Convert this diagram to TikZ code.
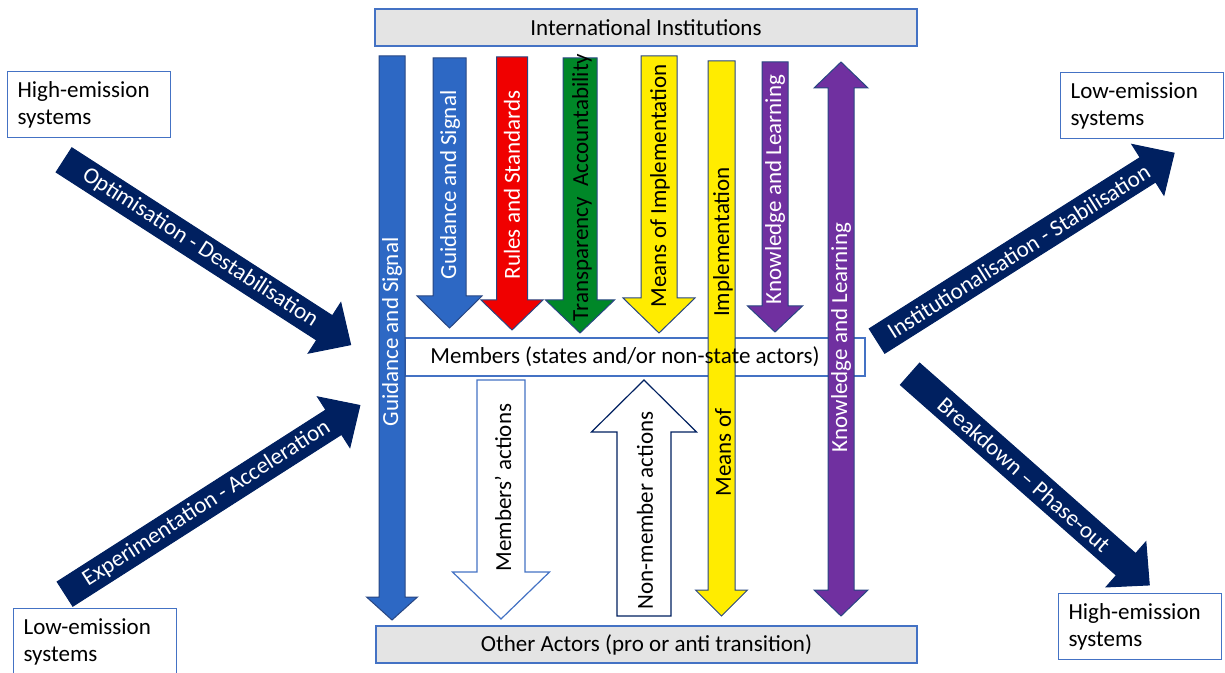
\documentclass[tikz,border=0pt]{standalone}
\usepackage{fontspec}
\setmainfont{Carlito}
\definecolor{navy}{RGB}{0,32,96}
\definecolor{boxblue}{RGB}{68,114,196}
\definecolor{edgeblue}{RGB}{40,70,130}
\definecolor{cblue}{RGB}{45,104,196}
\definecolor{cred}{RGB}{240,0,0}
\definecolor{cgreen}{RGB}{0,135,40}
\definecolor{cyellow}{RGB}{255,236,0}
\definecolor{cpurple}{RGB}{112,48,160}
\definecolor{boxgray}{RGB}{228,228,228}
% #1 style, #2 x centre, #3 tail y, #4 tip y, #5 half shaft, #6 half head, #7 head base y
\newcommand\vblockarrow[7]{%
  \filldraw[#1] (#2-#5,#3) -- (#2+#5,#3) -- (#2+#5,#7) -- (#2+#6,#7) -- (#2,#4)
    -- (#2-#6,#7) -- (#2-#5,#7) -- cycle;}
% #1 name, #2 tail point, #3 angle, #4 length, #5 text position, #6 text
\newcommand\diagblockarrow[6]{%
  \begin{scope}[shift={#2}, rotate=#3]
    \filldraw[diagarrow] (0,-14.5) -- (#4-31,-14.5) -- (#4-31,-30) -- (#4,0)
      -- (#4-31,30) -- (#4-31,14.5) -- (0,14.5) -- cycle;
    \node[difftext, rotate=#3] (#1) at (#5,0) {#6};
  \end{scope}}
\begin{document}
\begin{tikzpicture}[x=0.5pt,y=-0.5pt,
  font=\fontsize{11.5}{13.5}\selectfont,
  grayband/.style={draw=boxblue, fill=boxgray, line width=0.6pt, inner sep=0pt},
  sysbox/.style={draw=boxblue, fill=white, line width=0.6pt, anchor=north west,
    minimum height=33pt, text width=71.5pt, inner xsep=5pt, inner ysep=0pt, align=left},
  arrowedge/.style={draw=edgeblue, line width=0.5pt},
  diagarrow/.style={fill=navy, draw=navy, line width=0.5pt},
  difftext/.style={text=white, inner sep=0pt},
  vlabel/.style={rotate=90, inner sep=0pt},
  wlabel/.style={vlabel, text=white},
  blabel/.style={vlabel, text=black}]
\useasboundingbox (0,0) rectangle (1225,673);

% bands
\node[grayband, minimum width=271pt, minimum height=18.5pt] (intl) at (646,27.5) {International Institutions};
\node[grayband, minimum width=270.5pt, minimum height=18.5pt] (other) at (646.5,644.5) {Other Actors (pro or anti transition)};
\node[draw=boxblue, fill=white, line width=0.6pt, minimum width=230pt, minimum height=19pt, inner sep=0pt] (membox) at (635,357) {};

% short arrows from institutions to members
\vblockarrow{arrowedge, fill=cblue}{449.5}{58}{328}{16.5}{32.5}{296}
\vblockarrow{arrowedge, fill=cred}{512}{57}{330}{15.5}{31}{300}
\vblockarrow{arrowedge, fill=cgreen}{580}{58}{333}{17}{34.5}{300}
\vblockarrow{arrowedge, fill=cyellow}{659}{56}{333}{18}{36}{298}
\vblockarrow{arrowedge, fill=cpurple}{775}{62}{332}{13}{27.5}{306}

% long arrows
\vblockarrow{arrowedge, fill=cblue}{392}{56}{620}{13}{25.5}{597}
\vblockarrow{arrowedge, fill=cyellow}{721.5}{61}{616}{13.5}{26}{590}
\filldraw[arrowedge, fill=cpurple] (841,62) -- (868,88) -- (854,88) -- (854,590) -- (868,590)
  -- (841,616) -- (814,590) -- (828,590) -- (828,88) -- (814,88) -- cycle;

% actions arrows
\vblockarrow{draw=boxblue, line width=0.6pt, fill=white}{501}{380}{619}{24}{48.5}{572}
\vblockarrow{draw=navy, line width=0.6pt, fill=white}{644}{616}{380}{27}{52.5}{432}

% labels
\node[wlabel] (gs1) at (392,332) {Guidance and Signal};
\node[wlabel] (gs2) at (450,185) {Guidance and Signal};
\node[wlabel] (rs) at (512,185) {Rules and Standards};
\node[blabel] (ta) at (582,187.5) {Transparency\ \ Accountability};
\node[blabel] (mi1) at (660,186) {Means of Implementation};
\node[blabel] (mi2a) at (723,242) {Implementation};
\node[blabel] (mi2b) at (723,452.5) {Means of};
\node[wlabel] (kl1) at (775,189.5) {Knowledge and Learning};
\node[wlabel] (kl2) at (841,337.5) {Knowledge and Learning};
\node[blabel] (ma) at (503,487.5) {Members’ actions};
\node[blabel] (nma) at (645,510.5) {Non-member actions};
\node[inner sep=0pt] (members) at (625,357) {Members (states and/or non-state actors)};

% system boxes
\node[sysbox] (hel) at (7,71) {High-emission\\systems};
\node[sysbox] (lel) at (13,608) {Low-emission\\systems};
\node[sysbox] (ler) at (1060,72) {Low-emission\\systems};
\node[sysbox] (her) at (1058,593) {High-emission\\systems};

% diagonal arrows
\diagblockarrow{opt}{(64,160)}{-32.8}{341}{162}{Optimisation - Destabilisation}
\diagblockarrow{exp}{(65,594)}{32.6}{350}{168}{Experimentation - Acceleration}
\diagblockarrow{inst}{(877,341)}{32.3}{351.5}{167.6}{Institutionalisation - Stabilisation}
\diagblockarrow{brk}{(910,374)}{-41.4}{319}{152}{Breakdown – Phase-out}
\end{tikzpicture}
\end{document}
